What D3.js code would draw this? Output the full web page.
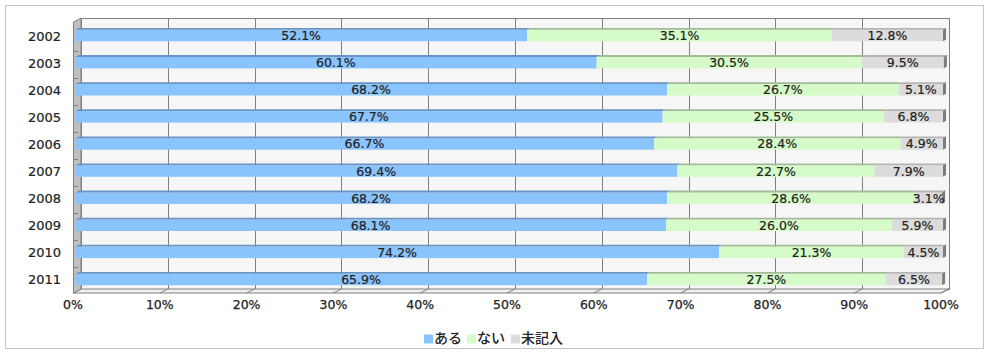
<!DOCTYPE html>
<html><head><meta charset="utf-8">
<script src="https://cdn.jsdelivr.net/npm/d3@7"></script>
<style>body{margin:0;background:#fff}svg{display:block}</style>
</head><body>
<svg id="c" width="989" height="354"></svg>
<script>
const years = ["2002","2003","2004","2005","2006","2007","2008","2009","2010","2011"];
const seriesNames = ["ある","ない","未記入"];
const aru    = [52.1,60.1,68.2,67.7,66.7,69.4,68.2,68.1,74.2,65.9];
const nai    = [35.1,30.5,26.7,25.5,28.4,22.7,28.6,26.0,21.3,27.5];
const mikinyu= [12.8,9.5,5.1,6.8,4.9,7.9,3.1,5.9,4.5,6.5];
const xTicks = [0,10,20,30,40,50,60,70,80,90,100];

const bodyCol = ["#8ac4ff","#d5fcc8","#dcdcdc"];
const topCol  = ["#6a94c4","#a2bb98","#b4b4b4"];

const svg = d3.select("#c");
const font = "'DejaVu Sans', sans-serif";

// outer frame
svg.append("rect").attr("x",5.5).attr("y",5.5).attr("width",978).attr("height",343)
  .attr("fill","#fff").attr("stroke","#c4c4c4").attr("stroke-width",1);

const dx = 8, dy = -4;
const xFront = d3.scaleLinear().domain([0,100]).range([73,941]);
const xBar = d3.scaleLinear().domain([0,100]).range([75,943]);
const yTopFront = 22, yBotFront = 293;
const y = d3.scaleBand().domain(years).range([24.5, 24.5+27.1*10]).paddingInner(0);

// back wall
svg.append("rect").attr("x",xFront(0)+dx+0.5).attr("y",yTopFront+dy+0.5)
  .attr("width",xFront(100)-xFront(0)).attr("height",yBotFront-yTopFront)
  .attr("fill","#f6f6f6").attr("stroke","#808080");
// gridlines
svg.append("g").selectAll("line").data(xTicks.slice(1,-1)).join("line")
  .attr("x1",d=>Math.round(xFront(d)+dx)+0.5).attr("x2",d=>Math.round(xFront(d)+dx)+0.5)
  .attr("y1",yTopFront+dy).attr("y2",yBotFront+dy)
  .attr("stroke","#808080");
// floor
svg.append("path").attr("d",
  `M${xFront(0)},${yBotFront}L${xFront(100)},${yBotFront}L${xFront(100)+dx},${yBotFront+dy}L${xFront(0)+dx},${yBotFront+dy}Z`)
  .attr("fill","#f0f0f0").attr("stroke","#808080");
// floor ticks
svg.append("g").selectAll("line").data(xTicks).join("line")
  .attr("x1",d=>xFront(d)).attr("x2",d=>xFront(d)+dx)
  .attr("y1",yBotFront).attr("y2",yBotFront+dy).attr("stroke","#808080");
// left wall
svg.append("path").attr("d",
  `M${xFront(0)+0.5},${yTopFront}L${xFront(0)+dx},${yTopFront+dy}L${xFront(0)+dx},${yBotFront+dy}L${xFront(0)+0.5},${yBotFront}Z`)
  .attr("fill","#c0c0c0").attr("stroke","#808080");
// category ticks on left wall
svg.append("g").selectAll("line").data(years.slice(1)).join("line")
  .attr("x1",xFront(0)).attr("x2",xFront(0)+5)
  .attr("y1",d=>Math.round(y(d)-1)+0.5).attr("y2",d=>Math.round(y(d)-1)+0.5)
  .attr("stroke","#808080");

// stacked data
const table = years.map((yr,i)=>({year:yr, v:[aru[i],nai[i],mikinyu[i]]}));
const barG = svg.append("g");
const bodyH = 11.5, topH = 1.8, topD = 4;
table.forEach(row=>{
  let acc = 0;
  const y0 = y(row.year) + 3.5;
  row.v.forEach((v,k)=>{
    const x0 = xBar(acc), x1 = xBar(acc+v);
    barG.append("rect").attr("x",x0).attr("y",y0+topH).attr("width",x1-x0).attr("height",bodyH)
      .attr("fill",bodyCol[k]);
    barG.append("path").attr("d",
      `M${x0},${y0+topH}L${x0+topD},${y0}L${x1+topD},${y0}L${x1},${y0+topH}Z`)
      .attr("fill",topCol[k]);
    acc += v;
  });
  // right side face
  const xe = xBar(acc);
  barG.append("path").attr("d",
    `M${xe},${y0+topH}L${xe+topD-1},${y0}L${xe+topD-1},${y0+bodyH}L${xe},${y0+topH+bodyH}Z`)
    .attr("fill","#7c7c7c");
  // labels
  acc = 0;
  row.v.forEach((v,k)=>{
    barG.append("text").attr("x",xBar(acc+v/2)).attr("y",y0+topH+bodyH/2+1)
      .attr("text-anchor","middle").attr("dominant-baseline","middle")
      .attr("font-family",font).attr("font-size",12.5).attr("fill","#222")
      .attr("stroke","#222").attr("stroke-width",0.2)
      .text(v.toFixed(1)+"%");
    acc += v;
  });
});

// y labels
svg.append("g").selectAll("text").data(years).join("text")
  .attr("x",61).attr("y",d=>y(d)+12.5)
  .attr("text-anchor","end").attr("dominant-baseline","middle")
  .attr("font-family",font).attr("font-size",13).attr("fill","#222")
  .attr("stroke","#222").attr("stroke-width",0.2).text(d=>d);

// x labels
svg.append("g").selectAll("text").data(xTicks).join("text")
  .attr("x",d=>xFront(d)).attr("y",305)
  .attr("text-anchor","middle").attr("dominant-baseline","middle")
  .attr("font-family",font).attr("font-size",12.5).attr("fill","#222")
  .attr("stroke","#222").attr("stroke-width",0.25).text(d=>d+"%");

// legend
const lg = svg.append("g").attr("font-family","'Noto Sans CJK JP', sans-serif").attr("font-size",14)
  .attr("fill","#222").attr("font-weight",500);
const lx = [424,467,511];
seriesNames.forEach((n,k)=>{
  lg.append("rect").attr("x",lx[k]).attr("y",334.5).attr("width",9).attr("height",9).attr("fill",bodyCol[k]);
  lg.append("text").attr("x",lx[k]+10).attr("y",339.5).attr("dominant-baseline","middle").text(n);
});
</script>
</body></html>
